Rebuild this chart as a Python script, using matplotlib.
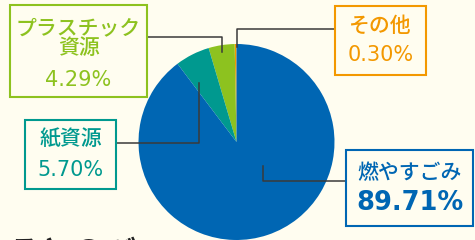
import matplotlib.pyplot as plt
from matplotlib.patches import Rectangle

plt.rcParams['font.family'] = ['Noto Sans CJK JP', 'DejaVu Sans']

# data: order of slices counterclockwise from the top
labels = ["その他", "プラスチック\n資源", "紙資源", "燃やすごみ"]
shares = [0.30, 4.29, 5.70, 89.71]
colors = ["#F39800", "#8DC21F", "#00998F", "#0066B3"]

W, H = 475, 240
bg = "#FFFDF0"

fig = plt.figure(figsize=(4.75, 2.4), dpi=100, facecolor=bg)
ax = fig.add_axes([0, 0, 1, 1])
ax.set_facecolor(bg)


def Y(y):
    # pixel row (from top) -> data y
    return H - y


ax.pie(shares, colors=colors, startangle=90, counterclock=True,
       center=(236.5, Y(142)), radius=98, wedgeprops=dict(linewidth=0))
ax.set_xlim(0, W)
ax.set_ylim(0, H)
ax.set_aspect('equal')
ax.axis('off')

line_kw = dict(color="#3A3A3A", lw=1.1, zorder=3)

# label boxes: (x0, y0, x1, y1) in pixels from top-left
boxes = [
    (335, 6, 426, 75),
    (10, 5, 147, 97),
    (25, 120, 116, 189),
    (346, 150, 473, 226),
]
for (x0, y0, x1, y1), c in zip(boxes, colors):
    ax.add_patch(Rectangle((x0, Y(y1)), x1 - x0, y1 - y0, facecolor=bg,
                           edgecolor=c, lw=1.5, zorder=4))

# leader lines
ax.plot([335, 236.5, 236.5], [Y(29), Y(29), Y(47)], **line_kw)
ax.plot([147, 222, 222], [Y(37), Y(37), Y(52)], **line_kw)
ax.plot([116, 199, 199], [Y(143), Y(143), Y(83)], **line_kw)
ax.plot([346, 263, 263], [Y(181), Y(181), Y(166)], **line_kw)

# texts
name_kw = dict(fontsize=15, ha='center', va='center', weight='medium', zorder=5)
pct_kw = dict(fontsize=15, ha='center', va='center', family='DejaVu Sans', zorder=5)

ax.text(380.5, Y(26), labels[0], color=colors[0], **name_kw)
ax.text(380.5, Y(55), f"{shares[0]:.2f}%", color=colors[0], **pct_kw)

line1, line2 = labels[1].split("\n")
ax.text(78.5, Y(28), line1, color=colors[1], **name_kw)
ax.text(78.5, Y(48.5), line2, color=colors[1], **name_kw)
ax.text(78.5, Y(79.5), f"{shares[1]:.2f}%", color=colors[1], **pct_kw)

ax.text(70.5, Y(140), labels[2], color=colors[2], **name_kw)
ax.text(70.5, Y(170), f"{shares[2]:.2f}%", color=colors[2], **pct_kw)

ax.text(409.5, Y(173), labels[3], color=colors[3], **name_kw)
ax.text(409.5, Y(203.5), f"{shares[3]:.2f}%", color=colors[3], fontsize=18.5, ha='center', va='center',
        family='DejaVu Sans', weight='bold', zorder=5)

# heading cut off at the bottom
ax.text(8, Y(238), "ろとのび", color="#222222", fontsize=23, ha='left', va='top', weight='bold', zorder=5)

fig.savefig("out.png", dpi=100, facecolor=bg)
